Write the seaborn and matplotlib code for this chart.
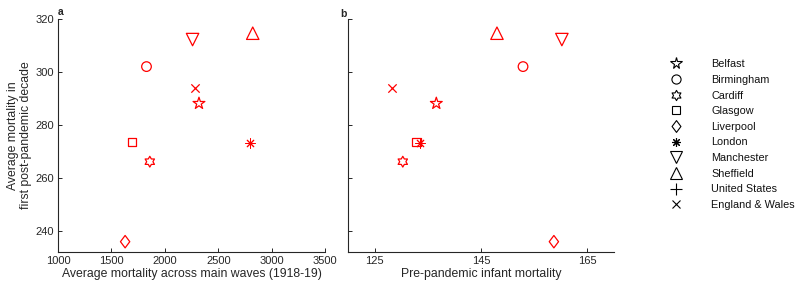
import numpy as np
import pandas as pd
import matplotlib
matplotlib.use("Agg")
import matplotlib.pyplot as plt
from matplotlib.path import Path
from matplotlib.lines import Line2D
import seaborn as sns

sns.set_theme(style="ticks")
plt.rcParams['font.family'] = ['Liberation Sans', 'DejaVu Sans']

cities = ["Belfast", "Birmingham", "Cardiff", "Glasgow", "Liverpool", "London",
          "Manchester", "Sheffield", "United States", "England & Wales"]
main_wave = [2319, 1828, 1859, 1694, 1628, 2800, 2259, 2822, 1569, 2281]
post_decade = [288.1, 302.0, 266.1, 273.6, 235.9, 273.3, 312.2, 314.6, 266.4, 294.0]
infant_mort = [136.6, 152.9, 130.3, 132.9, 158.7, 133.6, 160.2, 148.0, np.nan, 128.2]

xticks_a = [1000, 1500, 2000, 2500, 3000, 3500]
xticks_b = [125, 145, 165]
yticks = [240, 260, 280, 300, 320]

df = pd.DataFrame({"city": cities, "wave": main_wave, "post": post_decade, "infant": infant_mort})

# marker shapes
ang = np.linspace(np.pi / 2, np.pi / 2 + 2 * np.pi, 13)[:-1]
rad = np.where(np.arange(12) % 2 == 0, 1.0, 1 / np.sqrt(3))
hexa = Path(np.column_stack([rad * np.cos(ang), rad * np.sin(ang)]).tolist() + [[0, 1]], closed=True)
diam = Path([[0, 1], [0.75, 0], [0, -1], [-0.75, 0], [0, 1]], closed=True)

mstyle = {
    "Belfast": ("*", 80, True, 0.9),
    "Birmingham": ("o", 48, True, 0.9),
    "Cardiff": (hexa, 60, True, 0.9),
    "Glasgow": ("s", 38, True, 0.9),
    "Liverpool": (diam, 80, True, 0.9),
    "London": ((8, 2, 0), 45, False, 0.7),
    "Manchester": ("v", 80, True, 0.9),
    "Sheffield": ("^", 80, True, 0.9),
    "United States": ("+", 70, False, 0.9),
    "England & Wales": ("x", 36, False, 0.9),
}

fig = plt.figure(figsize=(8, 2.91), dpi=100)
ax_a = fig.add_axes([0.0725, 0.134, 0.334, 0.801])
ax_b = fig.add_axes([0.435, 0.134, 0.3325, 0.801])

red = "#ff0000"
for ax, xcol in [(ax_a, "wave"), (ax_b, "infant")]:
    for c in cities:
        sub = df[df.city == c].dropna()
        if sub.empty:
            continue
        m, s, filled, lw = mstyle[c]
        if filled:
            sns.scatterplot(data=sub, x=xcol, y="post", marker=m, s=s, ax=ax,
                            facecolors="none", edgecolors=red, linewidth=lw, legend=False)
        else:
            sns.scatterplot(data=sub, x=xcol, y="post", marker=m, s=s, ax=ax,
                            color=red, linewidth=lw, legend=False)

for ax in (ax_a, ax_b):
    ax.set_ylim(232, 320)
    ax.set_yticks(yticks)
    for sp in ("top", "right"):
        ax.spines[sp].set_visible(False)
    for sp in ("left", "bottom"):
        ax.spines[sp].set_linewidth(0.8)
        ax.spines[sp].set_color("#262626")
    ax.tick_params(direction="in", length=3, width=0.7, labelsize=8, pad=3, colors="#262626")
    ax.tick_params(labelcolor="#262626")

ax_a.set_xlim(1000, 3500)
ax_a.set_xticks(xticks_a)
ax_b.set_xlim(120, 170)
ax_b.set_xticks(xticks_b)
ax_b.set_yticklabels([])

ax_a.set_xlabel("Average mortality across main waves (1918-19)", fontsize=8.8, labelpad=1)
ax_a.set_ylabel("Average mortality in\nfirst post-pandemic decade", fontsize=8.8, labelpad=2)
ax_b.set_xlabel("Pre-pandemic infant mortality", fontsize=8.8, labelpad=1)
ax_b.set_ylabel("")

ax_a.text(0.0, 1.01, "a", transform=ax_a.transAxes, fontsize=7.5, fontweight="bold", ha="left", va="bottom")
ax_b.text(-0.03, 1.0, "b", transform=ax_b.transAxes, fontsize=7.5, fontweight="bold", ha="left", va="bottom")

handles = []
for c in cities:
    m, s, filled, lw = mstyle[c]
    handles.append(Line2D([], [], linestyle="none", marker=m, markersize=np.sqrt(s) * 0.95,
                          markerfacecolor="none", markeredgecolor="black", color="black",
                          markeredgewidth=0.8))
fig.legend(handles, cities, loc="upper left", bbox_to_anchor=(0.828, 0.815), frameon=False,
           fontsize=7.8, labelspacing=0.52, handlelength=1.5, handletextpad=2.5,
           borderpad=0, labelcolor="#111111")

fig.savefig("out.png", dpi=100)
